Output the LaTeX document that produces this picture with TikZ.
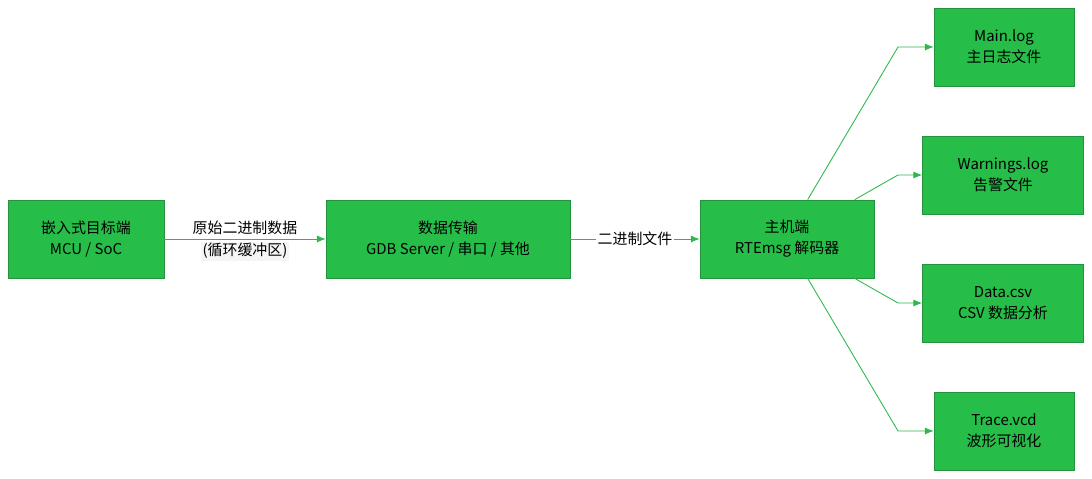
\documentclass[tikz,border=0pt]{standalone}
\usepackage{fontspec}
\setmainfont{Noto Sans CJK SC}
\usetikzlibrary{arrows.meta}
\definecolor{boxgreen}{HTML}{26BE48}
\definecolor{edgegreen}{HTML}{2DB84C}
\tikzset{
  box/.style={draw=edgegreen!80!black,fill=boxgreen,align=center,inner sep=0pt,
    font=\fontsize{8.5}{12}\selectfont},
  link/.style={draw=edgegreen,-{Latex[length=5pt,width=4pt]},line width=0.5pt},
  tag/.style={fill=white,inner sep=1pt,align=center,font=\fontsize{8.5}{12}\selectfont}
}
\begin{document}
\begin{tikzpicture}[x=0.02cm,y=-0.02cm]
  \useasboundingbox (0,0) rectangle (1092,478);
  \node[box,minimum width=3.12cm,minimum height=1.56cm] (target) at (86,239) {嵌入式目标端\\MCU / SoC};
  \node[box,minimum width=4.88cm,minimum height=1.56cm] (trans) at (448,239) {数据传输\\GDB Server / 串口 / 其他};
  \node[box,minimum width=3.48cm,minimum height=1.56cm] (host) at (787,239) {主机端\\RTEmsg 解码器};
  \node[box,minimum width=2.8cm,minimum height=1.56cm] (mainlog) at (1004,47) {Main.log\\主日志文件};
  \node[box,minimum width=3.22cm,minimum height=1.56cm] (warn) at (1003,175) {Warnings.log\\告警文件};
  \node[box,minimum width=3.22cm,minimum height=1.56cm] (data) at (1003,303) {Data.csv\\CSV 数据分析};
  \node[box,minimum width=2.8cm,minimum height=1.56cm] (trace) at (1004,431) {Trace.vcd\\波形可视化};
  \coordinate (m1) at (898,47);
  \coordinate (w1) at (898,175);
  \coordinate (d1) at (898,303);
  \coordinate (t1) at (898,431);
  \draw[link] (target) -- (trans);
  \draw[link] (trans) -- (host);
  \draw[link] (host.north west) ++(108,0) -- (m1) -- (mainlog);
  \draw[link] (host.north west) ++(155,0) -- (w1) -- (warn);
  \draw[link] (host.south west) ++(155,0) -- (d1) -- (data);
  \draw[link] (host.south west) ++(108,0) -- (t1) -- (trace);
  \node[tag] (lab1) at (245,228) {原始二进制数据};
  \node[tag,fill=gray!8] (lab2) at (245,251) {(循环缓冲区)};
  \node[tag] (lab3) at (635,239) {二进制文件};
\end{tikzpicture}
\end{document}
